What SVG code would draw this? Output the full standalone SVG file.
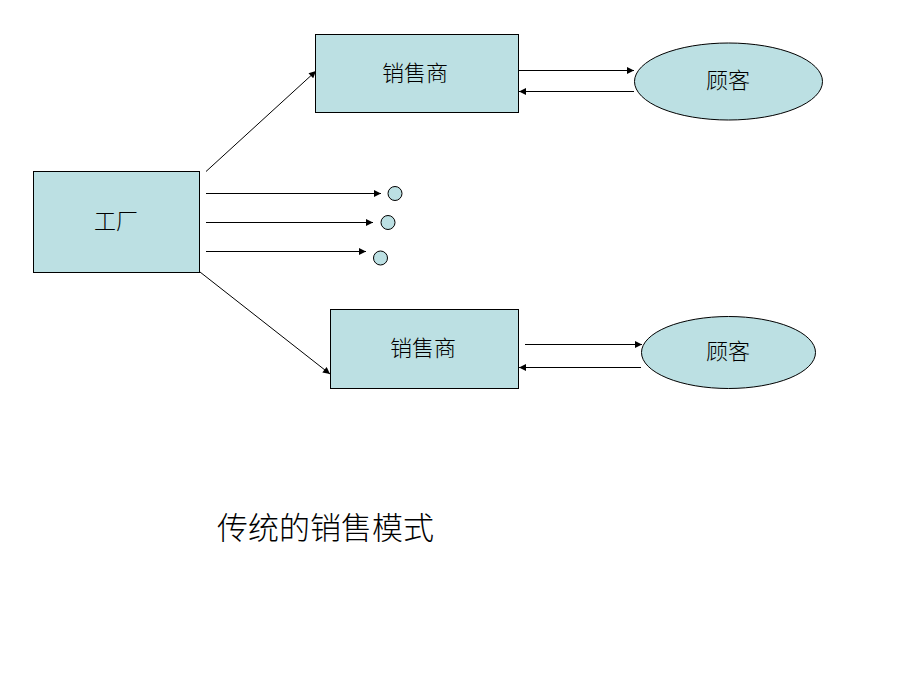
<svg xmlns="http://www.w3.org/2000/svg" width="920" height="690" viewBox="0 0 920 690">
<defs>
<style>
.n{fill:#BCE0E3;stroke:#000;stroke-width:1}
.c{stroke:#000;stroke-width:1;fill:none;marker-end:url(#ah)}
.t{font-family:"Noto Sans CJK SC",sans-serif;font-weight:300;font-size:22px;fill:#000;text-anchor:middle;dominant-baseline:central}
</style>
<marker id="ah" viewBox="0 0 10 10" refX="10" refY="5" markerWidth="9" markerHeight="7" markerUnits="userSpaceOnUse" orient="auto">
<path d="M0,0 L10,5 L0,10 z" fill="#000"/>
</marker>
</defs>
<rect width="920" height="690" fill="#fff"/>
<g id="factory"><rect class="n" x="33.5" y="171.5" width="166" height="101"/><text class="t" x="116" y="219">工厂</text></g>
<g id="dealer1"><rect class="n" x="315.5" y="34.5" width="203" height="78"/><text class="t" x="415" y="71">销售商</text></g>
<g id="dealer2"><rect class="n" x="330.5" y="309.5" width="188" height="79"/><text class="t" x="423" y="346">销售商</text></g>
<g id="customer1"><ellipse class="n" cx="728.5" cy="81.5" rx="94" ry="38.5"/><text class="t" x="728" y="78">顾客</text></g>
<g id="customer2"><ellipse class="n" cx="728.5" cy="352.5" rx="87" ry="36"/><text class="t" x="728" y="349">顾客</text></g>
<g id="dot1"><circle class="n" cx="395" cy="193.5" r="7"/></g>
<g id="dot2"><circle class="n" cx="388" cy="222.5" r="7"/></g>
<g id="dot3"><circle class="n" cx="380.5" cy="258" r="7"/></g>
<g id="connectors">
<line class="c" x1="206" y1="171.5" x2="316" y2="71"/>
<line class="c" x1="200" y1="272" x2="330" y2="374"/>
<line class="c" x1="206" y1="193.5" x2="381" y2="193.5"/>
<line class="c" x1="206" y1="222.5" x2="373" y2="222.5"/>
<line class="c" x1="206" y1="251.5" x2="366" y2="251.5"/>
<line class="c" x1="519" y1="70.5" x2="634" y2="70.5"/>
<line class="c" x1="634" y1="91.5" x2="519" y2="91.5"/>
<line class="c" x1="525" y1="344.5" x2="642" y2="344.5"/>
<line class="c" x1="641" y1="367.5" x2="519" y2="367.5"/>
</g>
<text x="217" y="539" font-family="'Noto Sans CJK SC',sans-serif" font-weight="300" font-size="31" fill="#000">传统的销售模式</text>
</svg>
